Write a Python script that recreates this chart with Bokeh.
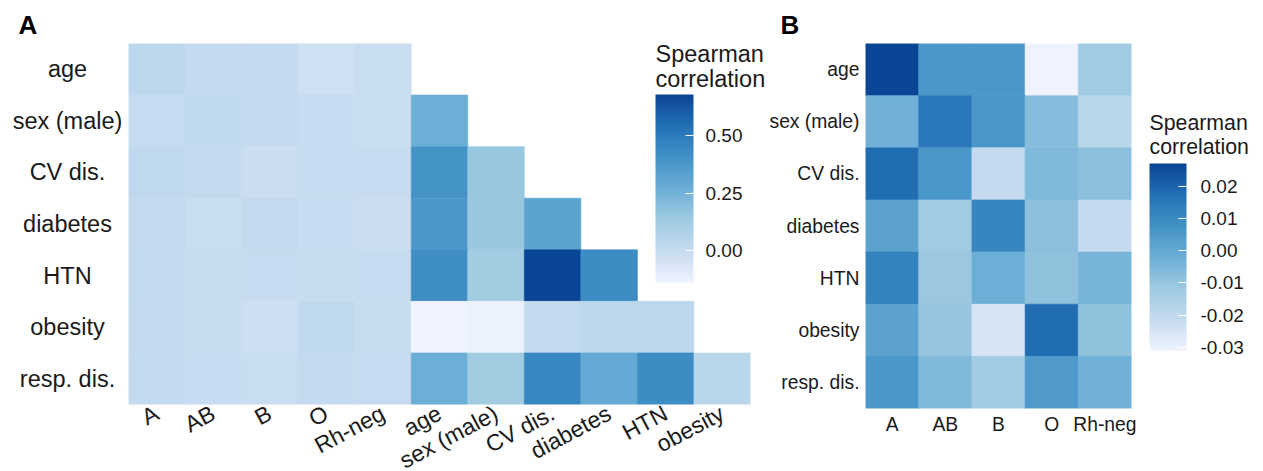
import math
import numpy as np
from bokeh.plotting import figure
from bokeh.models import (ColumnDataSource, FactorRange, LinearColorMapper, ColorBar,
                          FixedTicker, PrintfTickFormatter, Range1d)
from bokeh.layouts import row
from bokeh.embed import file_html
from bokeh.resources import INLINE
from bokeh.transform import transform
from bokeh.core.properties import value

# ---------------- data ----------------
blood_groups = ["A", "AB", "B", "O", "Rh-neg"]
risk_factors = ["age", "sex (male)", "CV dis.", "diabetes", "HTN", "obesity", "resp. dis."]

# Spearman correlation of each risk factor (rows) with each blood group (columns)
blood_corr = [
    [0.027, 0.006, 0.006, -0.031, -0.012],    # age
    [-0.003, 0.015, 0.006, -0.007, -0.018],   # sex (male)
    [0.018, 0.006, -0.021, -0.006, -0.008],   # CV dis.
    [0.002, -0.012, 0.011, -0.008, -0.021],   # diabetes
    [0.012, -0.011, -0.002, -0.009, -0.004],  # HTN
    [0.002, -0.010, -0.025, 0.018, -0.009],   # obesity
    [0.006, -0.006, -0.012, 0.005, -0.003],   # resp. dis.
]

# Spearman correlation between risk factors (lower triangle, rows = risk_factors[1:])
risk_corr = [
    [0.27],                                  # sex (male)
    [0.40, 0.15],                            # CV dis.
    [0.38, 0.15, 0.33],                      # diabetes
    [0.42, 0.12, 0.68, 0.43],                # HTN
    [-0.14, -0.13, 0.01, 0.03, 0.03],        # obesity
    [0.27, 0.12, 0.45, 0.29, 0.43, 0.04],    # resp. dis.
]

legend_title = ["Spearman", "correlation"]
ticks_A = [0.0, 0.25, 0.50]
ticks_B = [-0.03, -0.02, -0.01, 0.0, 0.01, 0.02]

# ---------------- palette (Blues, interpolated in Lab) ----------------
blues7 = ["#EFF3FF", "#C6DBEF", "#9ECAE1", "#6BAED6", "#4292C6", "#2171B5", "#084594"]

M = np.array([[0.4124564, 0.3575761, 0.1804375],
              [0.2126729, 0.7151522, 0.0721750],
              [0.0193339, 0.1191920, 0.9503041]])
Minv = np.linalg.inv(M)
WHITE = np.array([0.95047, 1.0, 1.08883])


def hex_to_lab(h):
    rgb = np.array([int(h[i:i + 2], 16) for i in (1, 3, 5)]) / 255.0
    lin = np.where(rgb <= 0.04045, rgb / 12.92, ((rgb + 0.055) / 1.055) ** 2.4)
    xyz = M @ lin / WHITE
    f = np.where(xyz > (6 / 29) ** 3, np.cbrt(xyz), xyz / (3 * (6 / 29) ** 2) + 4 / 29)
    return np.array([116 * f[1] - 16, 500 * (f[0] - f[1]), 200 * (f[1] - f[2])])


def lab_to_hex(lab):
    L, a, b = lab
    fy = (L + 16) / 116
    f = np.array([fy + a / 500, fy, fy - b / 200])
    xyz = np.where(f > 6 / 29, f ** 3, 3 * (6 / 29) ** 2 * (f - 4 / 29)) * WHITE
    lin = np.clip(Minv @ xyz, 0, 1)
    rgb = np.where(lin <= 0.0031308, 12.92 * lin, 1.055 * lin ** (1 / 2.4) - 0.055)
    rgb = np.clip(np.round(rgb * 255), 0, 255).astype(int)
    return "#%02x%02x%02x" % tuple(rgb)


labs = [hex_to_lab(h) for h in blues7]
palette = []
N = 256
for k in range(N):
    t = k / (N - 1) * (len(labs) - 1)
    i = min(int(t), len(labs) - 2)
    u = t - i
    palette.append(lab_to_hex(labs[i] * (1 - u) + labs[i + 1] * u))

FONT = "Liberation Sans"
TXT = "#1a1a1a"
TOP = 43  # common top border of all frames in the row


def clean(p):
    p.grid.visible = False
    p.outline_line_color = None
    p.background_fill_color = None
    p.border_fill_color = "white"


def style_axis(ax, size):
    ax.major_label_text_font = FONT
    ax.major_label_text_font_size = size
    ax.major_label_text_color = TXT
    ax.major_tick_line_color = None
    ax.minor_tick_line_color = None
    ax.axis_line_color = None
    ax.major_tick_out = 0
    ax.major_tick_in = 0


def style_letter(p, offset):
    p.title.text_font = FONT
    p.title.text_font_size = "26px"
    p.title.text_font_style = "bold"
    p.title.text_color = "black"
    p.title.align = "left"
    p.title.offset = offset
    p.title.standoff = 8


def make_colorbar(mapper, ticks, loc, w, h, standoff):
    return ColorBar(color_mapper=mapper, location=loc, width=w, height=h, padding=0,
                    title=None,
                    ticker=FixedTicker(ticks=ticks), formatter=PrintfTickFormatter(format="%.2f"),
                    major_label_text_font=FONT, major_label_text_font_size="19px",
                    major_label_text_color=TXT,
                    major_tick_line_color="white", major_tick_line_width=1,
                    major_tick_in=8, major_tick_out=0,
                    minor_tick_line_color=None, bar_line_color=None, border_line_color=None,
                    background_fill_alpha=0, label_standoff=standoff)


# ---------------- panel A ----------------
xs, ys, vs = [], [], []
for i, rf in enumerate(risk_factors):
    for j, bg in enumerate(blood_groups):
        xs.append(bg); ys.append(rf); vs.append(blood_corr[i][j])
for i in range(1, len(risk_factors)):
    for j in range(i):
        xs.append(risk_factors[j]); ys.append(risk_factors[i]); vs.append(risk_corr[i - 1][j])
srcA = ColumnDataSource(dict(x=xs, y=ys, v=vs))
mapA = LinearColorMapper(palette=palette, low=min(vs), high=max(vs))

yrA = FactorRange(factors=list(reversed(risk_factors)))
FH_A = 361

# column of centred row labels, sharing the y range of panel A
labA = figure(x_range=Range1d(0, 128), y_range=yrA, frame_width=128, frame_height=FH_A,
              min_border_left=0, min_border_right=0, min_border_top=TOP, min_border_bottom=20,
              output_backend="svg", toolbar_location=None, title="A")
labA.axis.visible = False
clean(labA)
labA.text(x=[67] * len(risk_factors), y=risk_factors, text=risk_factors,
          text_align="center", text_baseline="middle",
          text_font=value(FONT), text_font_size="23.5px", text_color=TXT)
style_letter(labA, 18)

x_factors_A = blood_groups + risk_factors[:-1]
pA = figure(x_range=FactorRange(factors=x_factors_A), y_range=yrA,
            frame_width=622, frame_height=FH_A,
            min_border_left=0, min_border_right=16, min_border_top=TOP, min_border_bottom=66,
            output_backend="svg", toolbar_location=None)
pA.rect(x="x", y="y", width=1, height=1, source=srcA,
        fill_color=transform("v", mapA), line_color=transform("v", mapA), line_width=0.6)
pA.yaxis.visible = False
xa = pA.xaxis[0]
style_axis(xa, "23px")
xa.major_label_orientation = math.radians(28)
xa.major_label_standoff = 7
clean(pA)

pA.add_layout(make_colorbar(mapA, ticks_A, (527, 122), 38, 188, 12))
# legend title, drawn at overlay level so that it may pass the frame edge
pA.text(x=[9.32, 9.32], y=[6.806, 6.302], text=legend_title,
        text_align="left", text_baseline="alphabetic", level="overlay",
        text_font=value(FONT), text_font_size="23.5px", text_color=TXT)

# ---------------- panel B ----------------
xb, yb, vb = [], [], []
for i, rf in enumerate(risk_factors):
    for j, bg in enumerate(blood_groups):
        xb.append(bg); yb.append(rf); vb.append(blood_corr[i][j])
srcB = ColumnDataSource(dict(x=xb, y=yb, v=vb))
mapB = LinearColorMapper(palette=palette, low=min(vb), high=max(vb))

pB = figure(x_range=FactorRange(factors=blood_groups),
            y_range=FactorRange(factors=list(reversed(risk_factors))),
            frame_width=266, frame_height=365,
            min_border_left=98, min_border_right=8, min_border_top=TOP, min_border_bottom=20,
            output_backend="svg", toolbar_location=None, title="B")
pB.rect(x="x", y="y", width=1, height=1, source=srcB,
        fill_color=transform("v", mapB), line_color=transform("v", mapB), line_width=0.6)
style_axis(pB.xaxis[0], "19.3px")
style_axis(pB.yaxis[0], "19.3px")
pB.xaxis[0].major_label_standoff = 5
pB.yaxis[0].major_label_standoff = 6
clean(pB)
style_letter(pB, -85)

# legend of panel B in its own frame (page-pixel coordinates, y downwards)
L0, L1, LB = 1138, 1263, 460
legB = figure(x_range=Range1d(L0, L1), y_range=Range1d(LB, TOP),
              frame_width=L1 - L0, frame_height=LB - TOP,
              min_border_left=0, min_border_right=0, min_border_top=TOP, min_border_bottom=0,
              output_backend="svg", toolbar_location=None)
legB.axis.visible = False
clean(legB)
legB.add_layout(make_colorbar(mapB, ticks_B, (10, LB - 349 - 1), 37, 187, 14))
legB.text(x=[1148, 1148], y=[122, 146], text=legend_title,
          text_align="left", text_baseline="alphabetic",
          text_font=value(FONT), text_font_size="21.3px", text_color=TXT)

layout = row(labA, pA, pB, legB)
open("out.html", "w").write(file_html(layout, INLINE))
